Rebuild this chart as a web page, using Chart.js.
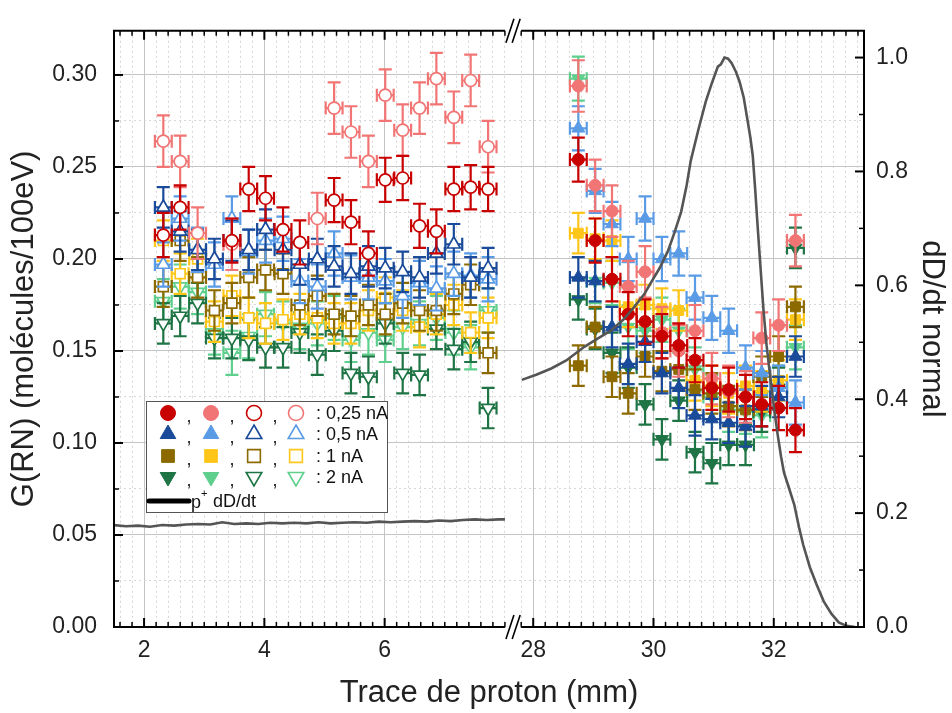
<!DOCTYPE html>
<html><head><meta charset="utf-8">
<script src="https://cdn.jsdelivr.net/npm/chart.js@4/dist/chart.umd.min.js"></script>
<style>html,body{margin:0;padding:0;background:#fff;}canvas{display:block;}</style>
</head><body>
<canvas id="c" width="952" height="713"></canvas>
<script>
// ---------------- DATA ----------------
// x positions (mm) of the measurement columns
const xLeft  = [2.32,2.60,2.89,3.17,3.46,3.74,4.02,4.31,4.59,4.88,5.16,5.44,5.73,6.01,6.30,6.58,6.86,7.15,7.43,7.72];
const xRight = [28.75,29.03,29.31,29.58,29.86,30.14,30.42,30.69,30.97,31.25,31.53,31.80,32.08,32.36];

// open markers (left segment) G(RN) values
const openDark025  = [0.213,0.228,null,null,0.210,0.238,0.233,0.216,0.209,null,0.232,0.220,0.203,0.243,0.244,0.218,0.215,0.238,0.239,0.238];
const openLight025 = [0.264,0.253,0.214,null,0.208,null,null,null,null,0.222,0.282,0.269,0.253,0.289,0.270,0.282,0.298,0.277,0.297,0.261];
const openDark05   = [0.228,0.215,0.205,0.200,0.210,0.205,0.216,0.205,0.197,0.200,0.196,0.192,0.196,0.195,0.193,0.190,0.203,0.208,0.190,0.195];
const openLight05  = [0.197,0.222,0.205,0.197,0.222,0.204,0.210,0.211,0.188,0.185,0.203,0.190,0.190,0.188,0.180,0.187,0.184,0.192,0.191,0.189];
const openDark1    = [0.185,0.210,0.190,0.172,0.176,0.190,0.194,0.192,0.175,0.180,0.170,0.169,0.175,0.170,0.176,0.172,0.172,0.181,0.186,0.149];
const openLight1   = [0.210,0.192,0.200,0.166,0.180,0.168,0.165,0.167,0.170,0.168,0.165,0.165,0.172,0.179,0.172,0.163,0.170,0.175,0.160,0.168];
const openDark2    = [0.165,0.169,0.176,0.157,0.157,0.156,0.152,0.152,0.160,0.148,0.161,0.138,0.136,0.165,0.138,0.137,0.162,0.151,0.155,0.119];
const openLight2   = [0.177,0.185,0.182,0.160,0.149,0.158,0.170,0.165,0.163,0.165,0.168,0.156,0.160,0.156,0.163,0.165,0.168,0.160,0.152,0.172];

// filled markers (right segment) G(RN) values
const fillDark025  = [0.254,0.210,0.189,0.170,0.166,0.158,0.153,0.145,0.130,0.129,0.125,0.121,0.119,0.107];
const fillLight025 = [0.294,0.240,0.226,0.185,0.193,0.160,0.150,0.161,0.135,0.128,0.125,0.157,0.164,0.210];
const fillDark05   = [0.190,0.188,0.163,0.143,0.155,0.138,0.130,0.115,0.113,0.111,0.109,0.120,0.125,0.147];
const fillLight05  = [0.271,0.237,0.219,0.200,0.222,0.200,0.203,0.179,0.168,0.161,0.141,0.138,0.130,0.122];
const fillDark1    = [0.142,0.163,0.136,0.127,0.147,0.139,0.140,0.129,0.127,0.120,0.118,0.136,0.147,0.174];
const fillLight1   = [0.214,0.211,0.210,0.174,0.175,0.173,0.172,0.134,0.131,0.127,0.131,0.128,0.134,0.167];
const fillDark2    = [0.178,0.162,0.149,0.141,0.121,0.102,0.123,0.095,0.089,0.099,0.099,0.117,0.130,0.206];
const fillLight2   = [0.298,0.188,0.187,0.163,0.161,0.167,0.161,0.140,0.125,0.118,0.117,0.115,0.130,0.152];

// uncertainties
const yErr = {d025:0.012, l025:0.014, d05:0.011, l05:0.012, d1:0.011, l1:0.011, d2:0.011, l2:0.012};
const xErr = 0.14;

// normalised proton dD/dt (right axis)
const doseXLeft  = [1.5,1.7,1.9,2.1,2.3,2.5,2.7,2.9,3.1,3.3,3.5,3.7,3.9,4.1,4.3,4.5,4.7,4.9,5.1,5.3,5.5,5.7,5.9,6.1,6.3,6.5,6.7,6.9,7.1,7.3,7.5,7.7,7.9,8.0];
const doseYLeft  = [0.179,0.177,0.178,0.176,0.179,0.178,0.180,0.181,0.180,0.184,0.181,0.182,0.181,0.183,0.182,0.183,0.182,0.184,0.182,0.183,0.184,0.183,0.185,0.184,0.185,0.186,0.185,0.187,0.186,0.188,0.189,0.188,0.189,0.189];
const doseXRight = [27.81,28.05,28.30,28.55,28.85,29.05,29.30,29.50,29.68,29.85,29.97,30.10,30.24,30.35,30.46,30.55,30.62,30.75,30.87,30.97,31.07,31.12,31.18,31.24,31.30,31.37,31.43,31.50,31.56,31.61,31.65,31.69,31.73,31.78,31.83,31.88,31.94,32.00,32.06,32.12,32.17,32.25,32.34,32.42,32.49,32.60,32.71,32.83,32.96,33.08,33.21,33.35];
const doseYRight = [0.434,0.443,0.454,0.468,0.492,0.505,0.521,0.540,0.562,0.585,0.607,0.630,0.660,0.693,0.729,0.775,0.819,0.875,0.923,0.955,0.984,0.988,1.000,0.998,0.990,0.975,0.958,0.930,0.892,0.860,0.828,0.770,0.706,0.630,0.555,0.495,0.440,0.388,0.341,0.300,0.271,0.245,0.215,0.175,0.144,0.105,0.075,0.045,0.023,0.008,0.002,0.000];

// axis ticks
const xMajorLeft = [2,4,6];
const xMajorRight = [28,30,32];
const yLeftLabels = ['0.00','0.05','0.10','0.15','0.20','0.25','0.30'];
const yRightLabels = ['0.0','0.2','0.4','0.6','0.8','1.0'];
const legendLabels = [': 0,25 nA', ': 0,5 nA', ': 1 nA', ': 2 nA'];

// ---------------- BROKEN AXIS MAPPING ----------------
const SEG1 = [1.5, 8.0], SEG2 = [27.8, 33.5], GAP = 0.27;
const SHIFT = SEG2[0] - SEG1[1] - GAP;
const disp = x => (x > 20 ? x - SHIFT : x);

const COL = {dr:'#C80000', lr:'#F27575', db:'#1A4A9A', lb:'#5A9BE6', dy:'#8C6A00', ly:'#FFC61A', dg:'#1E7444', lg:'#5FCF8D'};

function series(xs, ys, color, style, rot, filled, ey, radius) {
  const data = [];
  xs.forEach((x, i) => { if (ys[i] != null) data.push({x: disp(x), y: ys[i]}); });
  return {
    type: 'scatter', data, yAxisID: 'y', errY: ey, errX: xErr,
    pointStyle: style, pointRotation: rot, pointRadius: radius, pointHoverRadius: radius,
    backgroundColor: filled ? color : '#ffffff', borderColor: color,
    pointBorderWidth: filled ? 1 : 1.7, errColor: color
  };
}

const doseData = [];
doseXLeft.forEach((x, i) => doseData.push({x: disp(x), y: doseYLeft[i]}));
doseData.push({x: disp(8.1), y: null});
doseXRight.forEach((x, i) => doseData.push({x: disp(x), y: doseYRight[i]}));

const datasets = [
  {type:'line', data: doseData, yAxisID:'y2', borderColor:'#555555', borderWidth:2.6, pointRadius:0, spanGaps:false, tension:0, fill:false},
  // left, open markers
  series(xLeft, openDark025, COL.dr, 'circle', 0, false, yErr.d025, 6),
  series(xLeft, openLight025, COL.lr, 'circle', 0, false, yErr.l025, 6),
  series(xLeft, openDark05, COL.db, 'triangle', 0, false, yErr.d05, 7.5),
  series(xLeft, openLight05, COL.lb, 'triangle', 0, false, yErr.l05, 7.5),
  series(xLeft, openDark1, COL.dy, 'rect', 0, false, yErr.d1, 7),
  series(xLeft, openLight1, COL.ly, 'rect', 0, false, yErr.l1, 7),
  series(xLeft, openDark2, COL.dg, 'triangle', 180, false, yErr.d2, 7.5),
  series(xLeft, openLight2, COL.lg, 'triangle', 180, false, yErr.l2, 7.5),
  // right, filled markers
  series(xRight, fillDark025, COL.dr, 'circle', 0, true, yErr.d025, 6),
  series(xRight, fillLight025, COL.lr, 'circle', 0, true, yErr.l025, 6),
  series(xRight, fillDark05, COL.db, 'triangle', 0, true, yErr.d05, 7.5),
  series(xRight, fillLight05, COL.lb, 'triangle', 0, true, yErr.l05, 7.5),
  series(xRight, fillDark1, COL.dy, 'rect', 0, true, yErr.d1, 7),
  series(xRight, fillLight1, COL.ly, 'rect', 0, true, yErr.l1, 7),
  series(xRight, fillDark2, COL.dg, 'triangle', 180, true, yErr.d2, 7.5),
  series(xRight, fillLight2, COL.lg, 'triangle', 180, true, yErr.l2, 7.5)
];

// ---------------- TICKS ----------------
function buildXTicks() {
  const t = [];
  for (let k = 8; k <= 40; k++) { const v = k / 5; t.push({value: disp(v), real: v}); }
  for (let k = 139; k <= 167; k++) { const v = k / 5; t.push({value: disp(v), real: v}); }
  t.forEach(o => {
    const r = Math.round(o.real * 100) / 100;
    o.mj = xMajorLeft.includes(r) || xMajorRight.includes(r);
    o.lbl = o.mj ? String(r) : '';
  });
  return t;
}
const xTicks = buildXTicks();
const yTicks = [];
for (let k = 0; k <= 12; k++) yTicks.push({value: k * 0.025, mj: k % 2 === 0, lbl: k % 2 === 0 ? yLeftLabels[k / 2] : ''});
const y2Ticks = [];
for (let k = 0; k <= 10; k++) y2Ticks.push({value: k * 0.1, mj: k % 2 === 0, lbl: k % 2 === 0 ? yRightLabels[k / 2] : ''});

const FONT = 'Liberation Sans, Arial, sans-serif';
const tickFont = {family: FONT, size: 23};
const titleFont = {family: FONT, size: 31};

// ---------------- PLUGINS ----------------
const errorBars = {
  id: 'errorBars',
  beforeDatasetDraw(chart, args) {
    const ds = chart.data.datasets[args.index];
    if (!ds.errY) return;
    const xs = chart.scales.x, ys = chart.scales.y, c = chart.ctx;
    const ca = chart.chartArea;
    c.save();
    c.beginPath(); c.rect(ca.left, ca.top, ca.right - ca.left, ca.bottom - ca.top); c.clip();
    c.strokeStyle = ds.errColor; c.lineWidth = 2.2;
    const cap = 6.5;
    ds.data.forEach(p => {
      const px = xs.getPixelForValue(p.x), py = ys.getPixelForValue(p.y);
      const yt = ys.getPixelForValue(p.y + ds.errY), yb = ys.getPixelForValue(p.y - ds.errY);
      const xl = xs.getPixelForValue(p.x - ds.errX), xr = xs.getPixelForValue(p.x + ds.errX);
      c.beginPath();
      c.moveTo(px, yt); c.lineTo(px, yb);
      c.moveTo(px - cap, yt); c.lineTo(px + cap, yt);
      c.moveTo(px - cap, yb); c.lineTo(px + cap, yb);
      c.moveTo(xl, py); c.lineTo(xr, py);
      c.moveTo(xl, py - cap); c.lineTo(xl, py + cap);
      c.moveTo(xr, py - cap); c.lineTo(xr, py + cap);
      c.stroke();
    });
    c.restore();
  }
};

const frame = {
  id: 'frame',
  afterDraw(chart) {
    const c = chart.ctx, ca = chart.chartArea;
    const xs = chart.scales.x, ys = chart.scales.y, y2 = chart.scales.y2;
    const gL = xs.getPixelForValue(SEG1[1]), gR = xs.getPixelForValue(disp(SEG2[0]));
    c.save();
    c.strokeStyle = '#000'; c.lineCap = 'butt';
    c.lineWidth = 2;
    c.beginPath();
    c.moveTo(ca.left, ca.top); c.lineTo(ca.left, ca.bottom);
    c.moveTo(ca.right, ca.top); c.lineTo(ca.right, ca.bottom);
    c.moveTo(ca.left - 1, ca.top); c.lineTo(gL, ca.top);
    c.moveTo(gR, ca.top); c.lineTo(ca.right + 1, ca.top);
    c.moveTo(ca.left - 1, ca.bottom); c.lineTo(gL, ca.bottom);
    c.moveTo(gR, ca.bottom); c.lineTo(ca.right + 1, ca.bottom);
    c.stroke();
    xTicks.forEach(t => {
      const px = xs.getPixelForValue(t.value);
      const L = t.mj ? 9 : 5;
      c.lineWidth = t.mj ? 2 : 1.5;
      c.beginPath();
      c.moveTo(px, ca.bottom); c.lineTo(px, ca.bottom - L);
      c.moveTo(px, ca.top); c.lineTo(px, ca.top + L);
      c.stroke();
    });
    yTicks.forEach(t => {
      const py = ys.getPixelForValue(t.value);
      const L = t.mj ? 9 : 5;
      c.lineWidth = t.mj ? 2 : 1.5;
      c.beginPath(); c.moveTo(ca.left, py); c.lineTo(ca.left + L, py); c.stroke();
    });
    y2Ticks.forEach(t => {
      const py = y2.getPixelForValue(t.value);
      const L = t.mj ? 9 : 5;
      c.lineWidth = t.mj ? 2 : 1.5;
      c.beginPath(); c.moveTo(ca.right, py); c.lineTo(ca.right - L, py); c.stroke();
    });
    c.lineWidth = 1.6;
    [ca.top, ca.bottom].forEach(yy => {
      c.fillStyle = '#fff';
      c.fillRect(gL + 1, yy - 2, gR - gL - 2, 4);
      c.beginPath();
      c.moveTo(gL + 1, yy + 12); c.lineTo(gL + 9, yy - 12);
      c.moveTo(gR - 9, yy + 12); c.lineTo(gR - 1, yy - 12);
      c.stroke();
    });
    // legend
    const bx = 146, by = 401, bw = 241, bh = 111;
    c.fillStyle = '#fff'; c.fillRect(bx, by, bw, bh);
    c.strokeStyle = '#555'; c.lineWidth = 1; c.strokeRect(bx + 0.5, by + 0.5, bw, bh);
    const rows = [413, 434, 456, 477];
    const cols = [168, 211, 254, 296];
    const commas = [189, 232, 275];
    const pal = [[COL.dr, COL.lr], [COL.db, COL.lb], [COL.dy, COL.ly], [COL.dg, COL.lg]];
    const styles = [['circle', 0, 7.5], ['triangle', 0, 9], ['rect', 0, 9], ['triangle', 180, 9]];
    c.textBaseline = 'middle';
    rows.forEach((ry, r) => {
      const [st, rot, rad] = styles[r];
      for (let k = 0; k < 4; k++) {
        const color = pal[r][k % 2];
        const filled = k < 2;
        c.fillStyle = filled ? color : '#fff';
        c.strokeStyle = color;
        const bwid = filled ? 1 : 1.6;
        c.lineWidth = bwid;
        Chart.helpers.drawPoint(c, {pointStyle: st, rotation: rot, radius: rad, borderWidth: bwid}, cols[k], ry);
      }
      c.fillStyle = '#111'; c.textAlign = 'center';
      c.font = '18px ' + FONT;
      commas.forEach(cx => c.fillText(',', cx, ry + 4));
      c.textAlign = 'left';
      c.fillText(legendLabels[r], 316, ry + 1);
    });
    c.strokeStyle = '#000'; c.lineWidth = 5; c.lineCap = 'round';
    c.beginPath(); c.moveTo(149, 501); c.lineTo(189, 501); c.stroke();
    c.fillStyle = '#111'; c.textAlign = 'left';
    c.font = '18px ' + FONT; c.fillText('p', 191, 503);
    c.font = '11px ' + FONT; c.fillText('+', 201, 494);
    c.font = '18px ' + FONT; c.fillText('dD/dt', 213, 502);
    c.restore();
  }
};

// ---------------- CHART ----------------
const gridColor = ctx => (ctx.tick && ctx.tick.mj ? '#c4c4c4' : '#d6d6d6');
const gridDash = ctx => (ctx.tick && ctx.tick.mj ? [] : [2, 3]);

new Chart(document.getElementById('c'), {
  type: 'scatter',
  data: {datasets},
  options: {
    responsive: false, animation: false, devicePixelRatio: 1,
    layout: {padding: {top: 24, left: 0, right: 0, bottom: 0}},
    plugins: {legend: {display: false}, tooltip: {enabled: false}},
    scales: {
      x: {
        type: 'linear', position: 'bottom', min: SEG1[0], max: disp(SEG2[1]),
        afterFit: s => { s.height = 86; },
        afterBuildTicks: s => { s.ticks = xTicks.map(t => Object.assign({}, t)); },
        ticks: {autoSkip: false, maxRotation: 0, padding: 10, font: tickFont, color: '#222',
                callback: (v, i, t) => t[i].lbl || ''},
        grid: {color: gridColor, lineWidth: 1, drawTicks: false},
        border: {display: false, dash: gridDash},
        title: {display: true, text: 'Trace de proton (mm)', font: titleFont, color: '#222', padding: {top: 0, bottom: 1}}
      },
      y: {
        type: 'linear', position: 'left', min: 0, max: 0.324,
        afterFit: s => { s.width = 114; },
        afterBuildTicks: s => { s.ticks = yTicks.map(t => Object.assign({}, t)); },
        ticks: {autoSkip: false, padding: 17, font: tickFont, color: '#222',
                callback: (v, i, t) => t[i].lbl || ''},
        grid: {color: gridColor, lineWidth: 1, drawTicks: false},
        border: {display: false, dash: gridDash},
        title: {display: true, text: 'G(RN) (molécules/100eV)', font: titleFont, color: '#222', padding: {top: 6, bottom: 0}}
      },
      y2: {
        type: 'linear', position: 'right', min: 0, max: 1.047,
        afterFit: s => { s.width = 88; },
        afterBuildTicks: s => { s.ticks = y2Ticks.map(t => Object.assign({}, t)); },
        ticks: {autoSkip: false, padding: 12, font: tickFont, color: '#222',
                callback: (v, i, t) => t[i].lbl || ''},
        grid: {drawOnChartArea: false, drawTicks: false},
        border: {display: false},
        title: {display: true, text: 'dD/dt normal', font: titleFont, color: '#222', padding: {top: 2, bottom: 0}}
      }
    }
  },
  plugins: [errorBars, frame]
});
</script>
</body></html>
